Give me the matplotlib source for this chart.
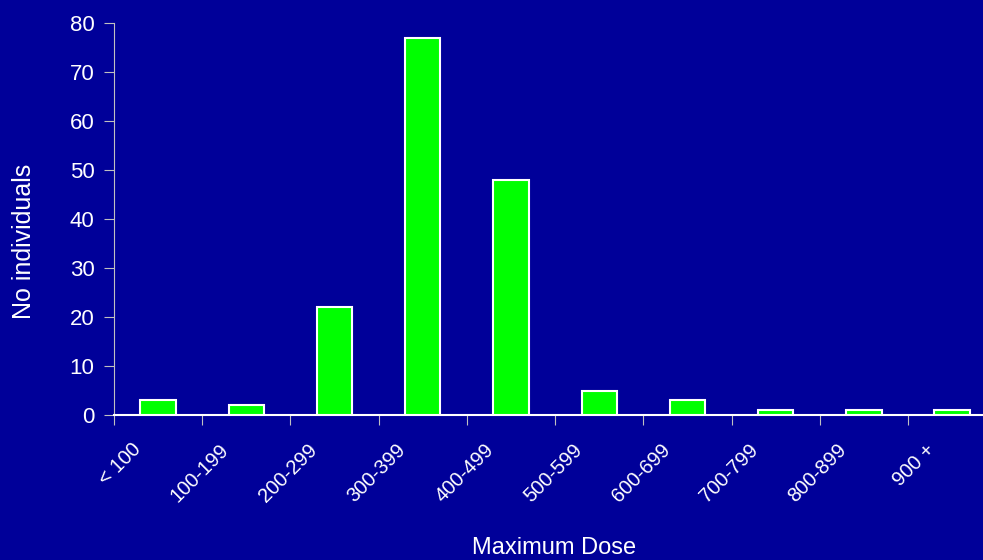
import matplotlib.pyplot as plt
import matplotlib.transforms as mtransforms
import numpy as np

plt.rcParams['font.family'] = ['Liberation Sans', 'DejaVu Sans']

categories = ["< 100", "100-199", "200-299", "300-399", "400-499",
              "500-599", "600-699", "700-799", "800-899", "900 +"]
counts = [3, 2, 22, 77, 48, 5, 3, 1, 1, 1]

bg = "#000099"
fig = plt.figure(figsize=(9.83, 5.6), dpi=100, facecolor=bg)
ax = fig.add_axes([114 / 983, 1 - 415 / 560, 1 - 114 / 983, (415 - 23) / 560])
ax.set_facecolor(bg)

x = np.arange(len(categories))
ax.bar(x, counts, width=0.4, color="#00FF00", edgecolor="white", linewidth=1.5, zorder=3)

ax.set_xlim(-0.5, 9.35)
ax.set_ylim(0, 80)
ax.set_yticks(range(0, 81, 10))

# tick marks sit between categories, labels under the bars
ax.set_xticks(np.arange(-0.5, 9, 1))
ax.set_xticklabels([])
ax.set_xticks(x, minor=True)
ax.set_xticklabels(categories, minor=True, rotation=45, ha="right",
                   rotation_mode="anchor", fontsize=14.5, color="white")
ax.tick_params(axis="x", which="minor", length=0, pad=18)
ax.tick_params(axis="x", which="major", length=7, color="#C0C0C0", direction="out")
ax.tick_params(axis="y", length=7, color="#C0C0C0", labelsize=16, labelcolor="white", pad=7)

shift = mtransforms.ScaledTranslation(-27 / 100, 0, fig.dpi_scale_trans)
for lbl in ax.get_xticklabels(minor=True):
    lbl.set_transform(lbl.get_transform() + shift)

for side in ["top", "right"]:
    ax.spines[side].set_visible(False)
ax.spines["left"].set_color("#C0C0C0")
ax.spines["bottom"].set_color("white")
ax.spines["bottom"].set_linewidth(1.5)

fig.text(24 / 983, 1 - 241 / 560, "No individuals", color="white", fontsize=18,
         rotation=90, ha="center", va="center")
fig.text(554 / 983, 1 - 548 / 560, "Maximum Dose", color="white", fontsize=17,
         ha="center", va="center")

plt.savefig("out.png", dpi=100, facecolor=bg)
